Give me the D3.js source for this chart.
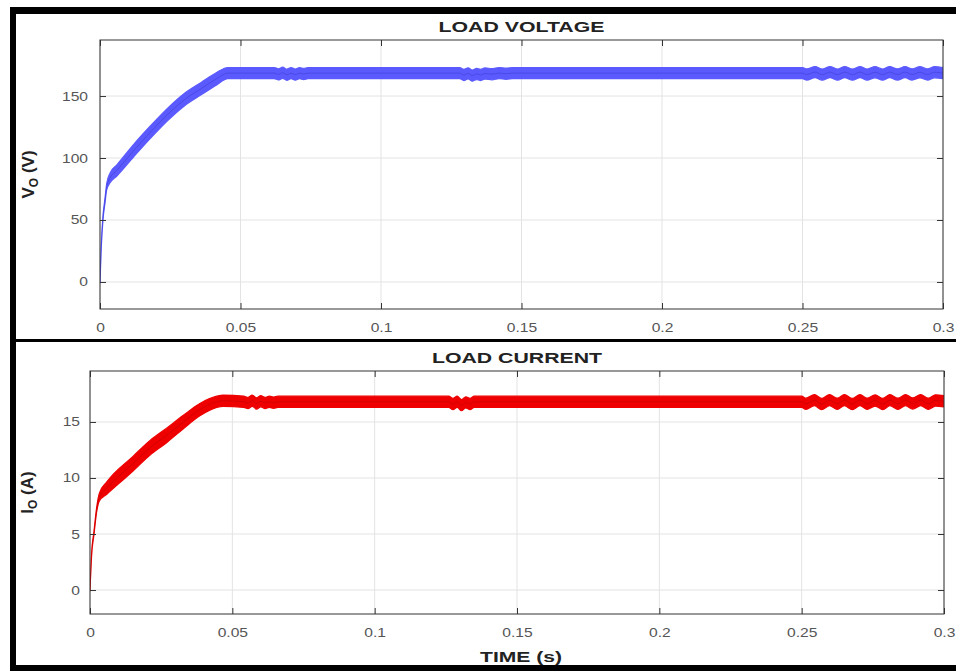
<!DOCTYPE html>
<html><head><meta charset="utf-8">
<script src="https://cdn.jsdelivr.net/npm/d3@7"></script>
<style>
body{margin:0;background:#fff;}
svg{display:block;font-family:"Liberation Sans",Arial,Helvetica,sans-serif;}
</style></head><body>
<svg id="c" width="956" height="671"></svg>
<script>
// ---------------- DATA ----------------
const timeTicks = [0, 0.05, 0.1, 0.15, 0.2, 0.25, 0.3];
const timeTickLabels = ["0", "0.05", "0.1", "0.15", "0.2", "0.25", "0.3"];
const voltageTicks = [0, 50, 100, 150];
const voltageTickLabels = ["0", "50", "100", "150"];
const currentTicks = [0, 5, 10, 15];
const currentTickLabels = ["0", "5", "10", "15"];

// Load voltage (V): time (s), centre value, ripple half-band
const voltageTime = [0, 0.0004, 0.001, 0.0018, 0.0024, 0.0036, 0.006, 0.012, 0.018, 0.024, 0.030, 0.036, 0.0415, 0.0455,
  0.062, 0.0635, 0.065, 0.0665, 0.068, 0.0695, 0.071, 0.0725, 0.074,
  0.128, 0.1295, 0.131, 0.1325, 0.134, 0.1355, 0.137, 0.1395, 0.142, 0.1445, 0.147,
  0.25, 0.2515, 0.2545, 0.257, 0.2598, 0.2625, 0.265, 0.2678, 0.2705, 0.273, 0.2758, 0.2785, 0.281, 0.2838, 0.2865, 0.289, 0.2918, 0.2945, 0.297, 0.3];
const voltageValue = [0, 26, 50, 66, 77, 84, 90, 106, 121, 135, 147, 156, 164, 168.5,
  168.5, 167.5, 168.8, 167.2, 168.5, 167.3, 168.5, 167.8, 168.5,
  168.5, 167, 168.3, 166.5, 167.8, 167, 168.2, 167.6, 168.5, 168, 168.5,
  168.5, 167.4, 169.3, 167.3, 169.3, 167.3, 169.3, 167.3, 169.3, 167.3, 169.2, 167.3, 169.3, 167.4, 169.3, 167.4, 169.2, 167.4, 169.2, 168.5];
const voltageRipple = [0.6, 1, 1.5, 2, 2.5, 4, 4.5, 5, 5, 5, 5, 5, 5, 4.5,
  4.5, 4.5, 4.5, 4.5, 4.5, 4.5, 4.5, 4.5, 4.5,
  4.5, 4.5, 4.5, 4.5, 4.5, 4.5, 4.5, 4.5, 4.5, 4.5, 4.5,
  4.5, 4.5, 4.5, 4.5, 4.5, 4.5, 4.5, 4.5, 4.5, 4.5, 4.5, 4.5, 4.5, 4.5, 4.5, 4.5, 4.5, 4.5, 4.5, 4.5];

// Load current (A): time (s), centre value, ripple half-band
const currentTime = [0, 0.0006, 0.0014, 0.0023, 0.0033, 0.0059, 0.0152, 0.0211, 0.0269, 0.0328, 0.0386, 0.0445, 0.0468,
  0.054, 0.0555, 0.057, 0.0585, 0.060, 0.0615, 0.063, 0.0645, 0.066,
  0.126, 0.1275, 0.129, 0.1305, 0.132, 0.1335, 0.135,
  0.25, 0.2515, 0.2545, 0.257, 0.2598, 0.2625, 0.265, 0.2678, 0.2705, 0.273, 0.2758, 0.2785, 0.281, 0.2838, 0.2865, 0.289, 0.2918, 0.2945, 0.297, 0.3];
const currentValue = [0, 3.3, 5.1, 7.1, 8.3, 9.1, 11.3, 12.7, 13.8, 15.0, 16.1, 16.8, 16.9,
  16.8, 16.7, 16.9, 16.65, 16.85, 16.7, 16.8, 16.72, 16.8,
  16.8, 16.6, 16.8, 16.5, 16.75, 16.6, 16.8,
  16.8, 16.62, 16.95, 16.6, 16.95, 16.62, 16.95, 16.6, 16.95, 16.62, 16.92, 16.6, 16.95, 16.62, 16.95, 16.65, 16.95, 16.62, 16.92, 16.85];
const currentRipple = [0.06, 0.1, 0.15, 0.2, 0.35, 0.55, 0.65, 0.65, 0.65, 0.6, 0.55, 0.5, 0.5,
  0.5, 0.5, 0.5, 0.5, 0.5, 0.5, 0.5, 0.5, 0.5,
  0.5, 0.5, 0.5, 0.5, 0.5, 0.5, 0.5,
  0.5, 0.5, 0.5, 0.5, 0.5, 0.5, 0.5, 0.5, 0.5, 0.5, 0.5, 0.5, 0.5, 0.5, 0.5, 0.5, 0.5, 0.5, 0.5, 0.5];

// ---------------- DRAW ----------------
const svg = d3.select("#c");
const STRETCH = 1.25;

function stretchText(sel) {
  sel.each(function () {
    const t = d3.select(this);
    const x = +t.attr("x") || 0;
    t.attr("x", x / STRETCH).attr("transform", `scale(${STRETCH},1)`);
  });
}

function panel(cfg) {
  const x = d3.scaleLinear().domain([0, 0.3]).range([cfg.left, cfg.right]);
  const y = d3.scaleLinear().domain(cfg.yDomain).range([cfg.bottom, cfg.top]);
  const g = svg.append("g");
  const id = "clip" + cfg.name;
  svg.append("clipPath").attr("id", id).append("rect")
    .attr("x", cfg.left).attr("y", cfg.top)
    .attr("width", cfg.right - cfg.left).attr("height", cfg.bottom - cfg.top);

  // grid
  g.append("g").selectAll("line").data(timeTicks).join("line")
    .attr("x1", d => x(d)).attr("x2", d => x(d))
    .attr("y1", cfg.top).attr("y2", cfg.bottom)
    .attr("stroke", "#e3e3e3").attr("stroke-width", 1);
  g.append("g").selectAll("line").data(cfg.yTicks).join("line")
    .attr("y1", d => y(d)).attr("y2", d => y(d))
    .attr("x1", cfg.left).attr("x2", cfg.right)
    .attr("stroke", "#e3e3e3").attr("stroke-width", 1);

  // data band
  const data = cfg.t.map((t, i) => ({ t, v: cfg.v[i], r: cfg.r[i] }));
  const area = d3.area().curve(d3.curveMonotoneX)
    .x(d => x(d.t)).y0(d => y(d.v - d.r)).y1(d => y(d.v + d.r));
  g.append("path").datum(data).attr("clip-path", `url(#${id})`)
    .attr("d", area).attr("fill", cfg.color)
    .attr("stroke", cfg.color).attr("stroke-width", 1.2).attr("stroke-linejoin", "round");
  const line = d3.line().curve(d3.curveMonotoneX).x(d => x(d.t)).y(d => y(d.v));
  g.append("path").datum(data).attr("clip-path", `url(#${id})`)
    .attr("d", line).attr("fill", "none")
    .attr("stroke", cfg.dark).attr("stroke-width", 0.8).attr("stroke-opacity", 0.35);

  // axes with inward ticks
  const bx = g.append("g").attr("transform", `translate(0,${cfg.bottom})`)
    .call(d3.axisBottom(x).tickValues(timeTicks).tickFormat((d, i) => timeTickLabels[i])
      .tickSizeInner(-6).tickSizeOuter(0).tickPadding(14));
  const tx = g.append("g").attr("transform", `translate(0,${cfg.top})`)
    .call(d3.axisTop(x).tickValues(timeTicks).tickFormat("").tickSizeInner(-6).tickSizeOuter(0));
  const ly = g.append("g").attr("transform", `translate(${cfg.left},0)`)
    .call(d3.axisLeft(y).tickValues(cfg.yTicks).tickFormat((d, i) => cfg.yTickLabels[i])
      .tickSizeInner(-6).tickSizeOuter(0).tickPadding(cfg.yPad));
  const ry = g.append("g").attr("transform", `translate(${cfg.right},0)`)
    .call(d3.axisRight(y).tickValues(cfg.yTicks).tickFormat("").tickSizeInner(-6).tickSizeOuter(0));
  [bx, tx, ly, ry].forEach(a => {
    a.select(".domain").remove();
    a.selectAll("line").attr("stroke", "#333");
    a.selectAll("text").attr("fill", "#555").attr("font-size", "12.5px")
      .attr("font-family", "\"Liberation Sans\",Arial,sans-serif");
  });
  stretchText(bx.selectAll("text"));
  stretchText(ly.selectAll("text"));

  // box
  g.append("rect").attr("x", cfg.left).attr("y", cfg.top)
    .attr("width", cfg.right - cfg.left).attr("height", cfg.bottom - cfg.top)
    .attr("fill", "none").attr("stroke", "#333").attr("stroke-width", 1);

  // title
  g.append("text").attr("x", (cfg.left + cfg.right) / 2).attr("y", cfg.titleY)
    .attr("text-anchor", "middle").attr("font-weight", "bold").attr("font-size", "15px")
    .attr("fill", "#222").attr("textLength", cfg.titleLen).attr("lengthAdjust", "spacingAndGlyphs")
    .text(cfg.title);

  // y label
  const yl = g.append("text")
    .attr("transform", `translate(${cfg.ylabX},${(cfg.top + cfg.bottom) / 2}) rotate(-90)`)
    .attr("text-anchor", "middle").attr("font-weight", "bold").attr("font-size", "17px").attr("fill", "#222");
  yl.append("tspan").text(cfg.ylab[0]);
  yl.append("tspan").attr("font-size", "12px").attr("dy", "4").text(cfg.ylab[1]);
  yl.append("tspan").attr("dy", "-4").text(cfg.ylab[2]);
}

panel({
  name: "v", left: 100, right: 943, top: 40, bottom: 309, yDomain: [-21.8, 195.2],
  yTicks: voltageTicks, yTickLabels: voltageTickLabels, yPad: 12,
  t: voltageTime, v: voltageValue, r: voltageRipple, color: "#5a5aff", dark: "#2020a0",
  title: "LOAD VOLTAGE", titleY: 32, titleLen: 166, ylab: ["V", "O", " (V)"], ylabX: 34
});
panel({
  name: "i", left: 90, right: 944, top: 371, bottom: 614, yDomain: [-2.14, 19.55],
  yTicks: currentTicks, yTickLabels: currentTickLabels, yPad: 10,
  t: currentTime, v: currentValue, r: currentRipple, color: "#ee0000", dark: "#900000",
  title: "LOAD CURRENT", titleY: 363, titleLen: 170, ylab: ["I", "O", " (A)"], ylabX: 33
});

// x label
svg.append("text").attr("x", 521).attr("y", 662).attr("text-anchor", "middle")
  .attr("font-weight", "bold").attr("font-size", "15px").attr("fill", "#222")
  .attr("textLength", 82).attr("lengthAdjust", "spacingAndGlyphs").text("TIME (s)");

// frame
const frame = svg.append("g").attr("fill", "#000");
frame.append("rect").attr("x", 10).attr("y", 7).attr("width", 946).attr("height", 7);
frame.append("rect").attr("x", 10).attr("y", 7).attr("width", 6).attr("height", 664);
frame.append("rect").attr("x", 10).attr("y", 339).attr("width", 946).attr("height", 3);
frame.append("rect").attr("x", 10).attr("y", 665).attr("width", 946).attr("height", 6);
</script>
</body></html>
